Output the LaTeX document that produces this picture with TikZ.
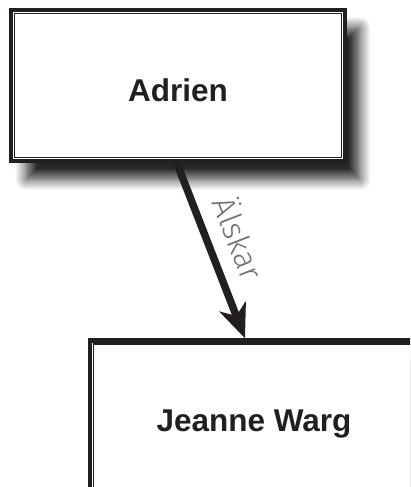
\documentclass[tikz,border=0pt]{standalone}
\usepackage{fontspec}
\setmainfont{Liberation Sans}
\newfontfamily\lightfont{Fira Sans Light}
\usetikzlibrary{arrows.meta,shadows.blur}
\definecolor{ink}{HTML}{231F20}
\begin{document}
\begin{tikzpicture}[x=1pt,y=-1pt,
  box/.style={draw=ink, line width=4.3pt, fill=white, rectangle,
    minimum width=333.4pt, minimum height=151.6pt, inner sep=0pt,
    blur shadow={shadow xshift=15pt, shadow yshift=-18pt,
      shadow blur radius=11pt, shadow blur steps=12, shadow opacity=85}},
  innerline/.style={draw=ink, line width=1.1pt},
  persontext/.style={font=\bfseries\fontsize{31.5}{38}\selectfont, text=ink, inner sep=0pt, anchor=base},
  conn/.style={draw=ink, line width=7.5pt, -{Stealth[length=34pt,width=28pt,inset=10pt]}},
  lbl/.style={font=\lightfont\fontsize{32}{38}\selectfont, text=black!55, inner sep=0pt}
]
\useasboundingbox (0,0) rectangle (410,487);
\clip (0,0) rectangle (410,487);
\node[box] (a) at (178,85.5) {};
\draw[innerline] ([shift={(5.6,5.6)}]a.north west) rectangle ([shift={(-5.6,-5.6)}]a.south east);
\node[box] (b) at (256.7,416.3) {};
\draw[innerline] ([shift={(5.6,5.6)}]b.north west) rectangle ([shift={(-5.6,-5.6)}]b.south east);
\node[persontext] (ta) at (178,101) {Adrien};
\node[persontext] (tb) at (254,431) {Jeanne Warg};
\draw[conn] ([xshift=-1pt]a.south) -- node[lbl, sloped, pos=0.49, above=14pt] (l) {Älskar} ([xshift=-11.7pt]b.north);
\end{tikzpicture}
\end{document}
